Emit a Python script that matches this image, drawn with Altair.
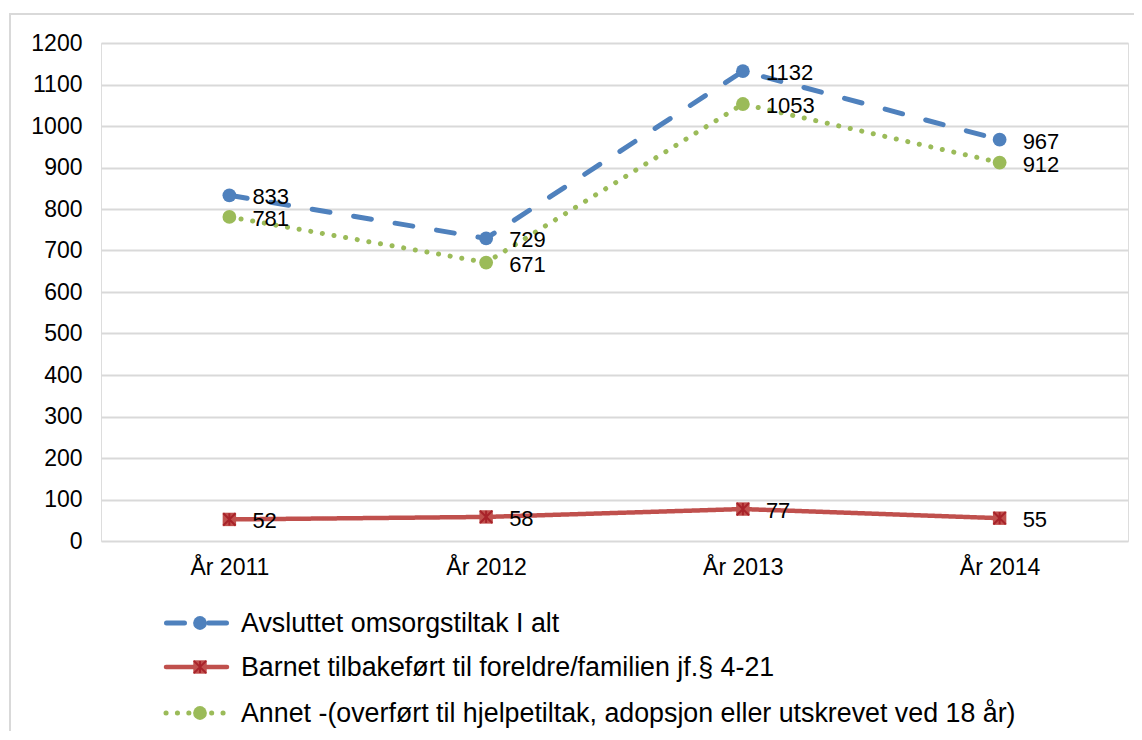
import altair as alt
import pandas as pd

years = ["År 2011", "År 2012", "År 2013", "År 2014"]
series_names = [
    "Avsluttet omsorgstiltak I alt",
    "Barnet tilbakeført til foreldre/familien jf.§ 4-21",
    "Annet -(overført til hjelpetiltak, adopsjon eller utskrevet ved 18 år)",
]
avsluttet = [833, 729, 1132, 967]
barnet = [52, 58, 77, 55]
annet = [781, 671, 1053, 912]
y_ticks = list(range(0, 1201, 100))

values = [avsluttet, barnet, annet]
colors = ["#4F81BD", "#C0504D", "#9BBB59"]
dashes = [[18, 24], [1, 0], [0.1, 11.7]]
caps = ["round", "butt", "round"]
widths = [5, 4.5, 5]

FONT = "Liberation Sans"
W, H = 1027, 498

rows = []
for name, vals in zip(series_names, values):
    for yr, v in zip(years, vals):
        rows.append({"series": name, "year": yr, "value": v})
df = pd.DataFrame(rows)

x_enc = alt.X("year:N", sort=years, scale=alt.Scale(type="point", padding=0.5),
              axis=alt.Axis(title=None, domain=False, ticks=False, grid=False,
                            labelPadding=15, labelFontSize=23, labelFont=FONT,
                            labelColor="#000000", labelAngle=0))
y_enc = alt.Y("value:Q", scale=alt.Scale(domain=[0, 1200], nice=False),
              axis=alt.Axis(title=None, domain=False, ticks=False, values=y_ticks,
                            format="d",
                            labelPadding=19, labelFontSize=23, labelFont=FONT,
                            labelColor="#000000", gridColor="#D9D9D9", gridWidth=2))

layers = []
# outer frame
frame = alt.Chart(pd.DataFrame({"a": [0]})).mark_rect(
    fill=None, stroke="#D9D9D9", strokeWidth=2
).encode(x=alt.value(-91), x2=alt.value(1300), y=alt.value(-29), y2=alt.value(900))
layers.append(frame)

base = alt.Chart(df)
for i, name in enumerate(series_names):
    sub = base.transform_filter(alt.datum.series == name)
    enc_x = x_enc if i == 0 else alt.X("year:N", sort=years)
    enc_y = y_enc if i == 0 else alt.Y("value:Q")
    line = sub.mark_line(color=colors[i], strokeWidth=widths[i], strokeDash=dashes[i],
                         strokeCap=caps[i]).encode(x=enc_x, y=enc_y)
    layers.append(line)

XPATH = "M-1,-1L1,1M-1,1L1,-1M0,-1L0,1"
for i, name in enumerate(series_names):
    sub = base.transform_filter(alt.datum.series == name)
    if i == 1:
        pts = sub.mark_point(shape="square", filled=True, size=180, color="#C0504D",
                             opacity=1).encode(x="year:N", y="value:Q")
        xs = sub.mark_point(shape=XPATH, filled=False, size=150,
                            stroke="#A8232A", strokeWidth=2, opacity=1).encode(x="year:N", y="value:Q")
        layers += [pts, xs]
    else:
        pts = sub.mark_circle(size=190, color=colors[i], opacity=1).encode(x="year:N", y="value:Q")
        layers.append(pts)
    lbl = sub.mark_text(align="left", baseline="middle", dx=23, dy=2, fontSize=22,
                        font=FONT, color="#000000").encode(x="year:N", y="value:Q",
                                                           text="value:Q")
    layers.append(lbl)

# legend
leg_y = [580, 624, 670]
lx0, lx1, lmid, ltx = 63, 128, 99, 140
one = pd.DataFrame({"a": [0]})
for i, name in enumerate(series_names):
    c = alt.Chart(one)
    if i == 0:
        ln = c.mark_rule(color=colors[i], strokeWidth=5, strokeDash=[18, 24], strokeCap="round").encode(
            x=alt.value(lx0 + 2.5), x2=alt.value(lx1 - 2.5), y=alt.value(leg_y[i]))
    elif i == 2:
        ln = c.mark_rule(color=colors[i], strokeWidth=5, strokeDash=[0.1, 11.3], strokeCap="round").encode(
            x=alt.value(lx0 + 2), x2=alt.value(lx1), y=alt.value(leg_y[i]))
    else:
        ln = c.mark_rule(color=colors[i], strokeWidth=widths[i], strokeCap="round").encode(
            x=alt.value(lx0 + 2), x2=alt.value(lx1 - 2), y=alt.value(leg_y[i]))
    layers.append(ln)
    if i == 1:
        layers.append(c.mark_point(shape="square", filled=True, size=180, color="#C0504D", opacity=1)
                      .encode(x=alt.value(lmid), y=alt.value(leg_y[i])))
        layers.append(c.mark_point(shape=XPATH, filled=False, size=150,
                                   stroke="#A8232A", strokeWidth=2, opacity=1)
                      .encode(x=alt.value(lmid), y=alt.value(leg_y[i])))
    else:
        layers.append(c.mark_circle(size=190, color=colors[i], opacity=1)
                      .encode(x=alt.value(lmid), y=alt.value(leg_y[i])))
    layers.append(c.mark_text(align="left", baseline="middle", fontSize=26.8, font=FONT,
                              color="#000000", text=name)
                  .encode(x=alt.value(ltx), y=alt.value(leg_y[i] + 1)))

chart = alt.layer(*layers).properties(
    width=W, height=H,
    autosize=alt.AutoSizeParams(type="none"),
    padding={"left": 93, "top": 35, "right": 6, "bottom": 190},
).configure_view(stroke=None).configure(background="white")

chart.save("out.html", embed_options={"renderer": "svg", "actions": False})
